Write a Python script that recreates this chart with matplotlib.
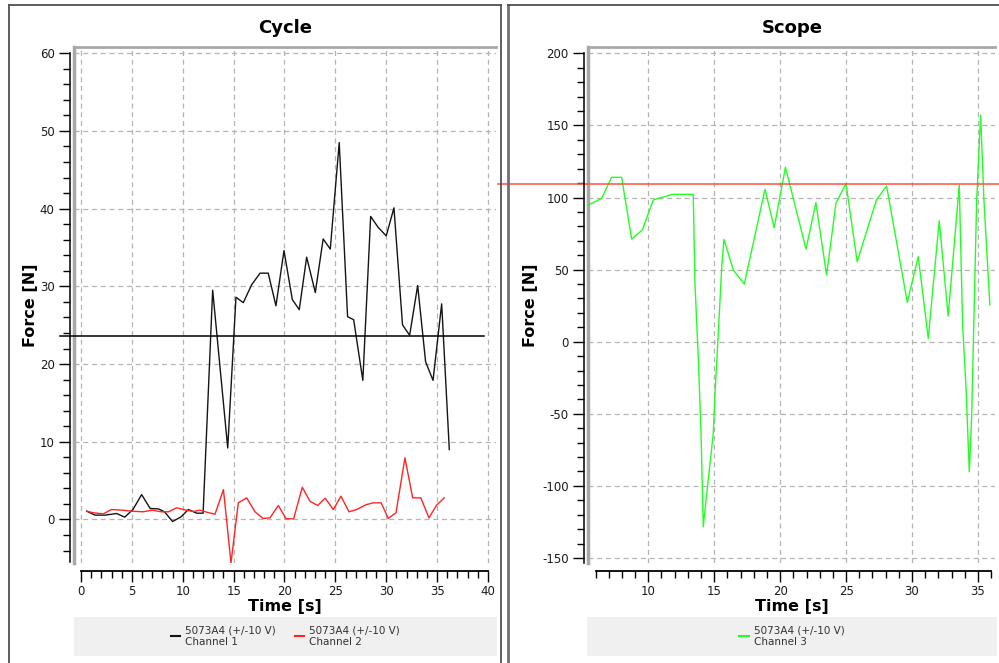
import matplotlib.pyplot as plt
from matplotlib.lines import Line2D
from matplotlib.patches import Rectangle
from matplotlib.ticker import MultipleLocator

plt.rcParams['axes.unicode_minus'] = False

# Cycle panel: channel 1 (black) and channel 2 (red)
ch1_t = [0.56, 1.38, 2.36, 3.5, 4.3, 5.1, 5.96, 6.8, 7.6, 8.2, 9.0, 9.83, 10.55,
         11.37, 12.0, 12.94, 14.42, 15.23, 15.95, 16.77, 17.6, 18.4, 19.16, 19.95,
         20.77, 21.45, 22.18, 23.03, 23.8, 24.5, 25.38, 26.2, 26.8, 27.7, 28.47,
         29.2, 30.0, 30.76, 31.6, 32.3, 33.09, 33.87, 34.6, 35.45, 36.2]
ch1_f = [1.07, 0.56, 0.56, 0.77, 0.3, 1.28, 3.2, 1.41, 1.37, 0.99, -0.26, 0.34, 1.28,
         0.81, 0.81, 29.5, 9.2, 28.6, 27.9, 30.2, 31.7, 31.7, 27.5, 34.6,
         28.3, 27.0, 33.75, 29.2, 36.1, 34.8, 48.5, 26.1, 25.7, 17.9, 39.0,
         37.6, 36.5, 40.1, 25.05, 23.7, 30.1, 20.3, 17.9, 27.75, 9.0]

ch2_t = [0.56, 1.21, 2.19, 3.0, 4.0, 4.98, 6.1, 7.0, 7.9, 8.6, 9.4, 10.2, 11.04,
         11.7, 12.35, 13.17, 14.0, 14.74, 15.46, 16.28, 17.1, 17.9, 18.57, 19.4,
         20.15, 20.9, 21.75, 22.5, 23.26, 24.0, 24.8, 25.55, 26.34, 27.1, 27.98,
         28.7, 29.5, 30.2, 30.96, 31.84, 32.6, 33.4, 34.2, 34.95, 35.7]
ch2_f = [1.07, 0.86, 0.73, 1.28, 1.2, 1.07, 0.99, 1.2, 0.99, 0.99, 1.5, 1.24, 1.03,
         1.2, 0.94, 0.68, 3.85, -5.6, 2.14, 2.78, 0.99, 0.13, 0.21, 1.8,
         0.09, 0.09, 4.15, 2.35, 1.8, 2.74, 1.28, 3.0, 0.99, 1.28, 1.88,
         2.14, 2.14, 0.13, 0.86, 7.93, 2.78, 2.78, 0.21, 1.84, 2.78]

# Scope panel: channel 3 (green)
ch3_t = [5.45, 6.47, 7.22, 7.98, 8.74, 9.55, 10.38, 11.82, 13.41, 13.54, 13.8, 14.0,
         14.17, 14.3, 14.93, 15.06, 15.31, 15.57, 15.74, 16.45, 17.28, 18.85, 19.55,
         20.4, 21.96, 22.71, 23.52, 24.23, 24.99, 25.84, 27.3, 28.07, 29.64, 30.47,
         31.23, 32.06, 32.74, 33.58, 33.84, 34.09, 34.34, 34.52, 34.9, 35.2, 35.45, 35.9]
ch3_f = [94.8, 99.4, 114, 114, 71.2, 77.5, 98.3, 102.2, 102.2, 40.5, -12.7, -63.5,
         -128.3, -116.7, -63.5, -35.8, 5.8, 52, 71, 49.7, 40, 105.7, 79.1,
         121, 64.3, 96.4, 46.3, 96, 109.8, 55.5, 98.3, 108, 27.3, 59,
         2.3, 83.9, 17.8, 108.7, 10.4, -31.2, -90.2, -52, 98.3, 157.2, 98.3, 25.5]

cycle_level = 23.6
scope_level = 109.4

legend_label = '5073A4 (+/-10 V)\nChannel {}'

W, H = 999, 663
fig = plt.figure(figsize=(W / 100, H / 100), dpi=100)


def fx(x):
    return x / W


def fy(y):
    return 1 - y / H


def frame_line(xs, ys, color='#505050', lw=1.3):
    fig.add_artist(Line2D([fx(v) for v in xs], [fy(v) for v in ys], color=color, lw=lw))


# window frames
frame_line([8.5, 8.5], [663, 4.5])
frame_line([8.5, 501], [4.5, 4.5])
frame_line([501, 501], [4.5, 663])
frame_line([508, 508], [663, 4.5], color='#707070', lw=2)
frame_line([508, 999], [4.5, 4.5])


def style_axes(ax, xlim, ylim, xbound, ybound, ymajor, yminor):
    ax.set_xlim(xlim)
    ax.set_ylim(ylim)
    ax.spines['right'].set_visible(False)
    ax.spines['top'].set_color('#a8a8a8')
    ax.spines['top'].set_linewidth(2)
    ax.spines['left'].set_position(('outward', 3))
    ax.spines['left'].set_bounds(*ybound)
    ax.spines['left'].set_linewidth(1.1)
    ax.spines['bottom'].set_position(('outward', 6))
    ax.spines['bottom'].set_bounds(*xbound)
    ax.spines['bottom'].set_linewidth(1.3)
    ax.plot([0, 0], [0, 1], transform=ax.transAxes, color='#a8a8a8', lw=2.5, clip_on=False)

    ax.xaxis.set_major_locator(MultipleLocator(5))
    ax.xaxis.set_minor_locator(MultipleLocator(1))
    ax.yaxis.set_major_locator(MultipleLocator(ymajor))
    ax.yaxis.set_minor_locator(MultipleLocator(yminor))
    ax.tick_params(which='major', length=8, width=1, labelsize=8.5, pad=3, labelcolor='#1a1a1a')
    ax.tick_params(which='minor', length=5, width=1)
    ax.tick_params(axis='x', which='major', pad=1.5)
    ax.grid(True, which='major', color='#b4b4b4', ls=(0, (4, 3)), lw=0.9)

    ax.set_xlabel('Time [s]', fontsize=11.5, fontweight='bold', va='center')
    ax.xaxis.set_label_coords(0.5, -0.085)
    ax.set_ylabel('Force [N]', fontsize=11.5, fontweight='bold', va='center')


def legend_box(x0, x1, handles, labels):
    fig.add_artist(Rectangle((fx(x0), fy(656)), fx(x1 - x0), 39 / H,
                             facecolor='#f0f0f0', edgecolor='none'))
    fig.legend(handles, labels, loc='center', bbox_to_anchor=(fx((x0 + x1) / 2), fy(636)),
               bbox_transform=fig.transFigure, ncol=len(handles), frameon=False,
               fontsize=7.5, handlelength=0.9, handletextpad=0.5, columnspacing=1.8,
               labelcolor='#333333')


# Cycle
ax1 = fig.add_axes([fx(74), fy(563), fx(422), 516 / H])
style_axes(ax1, (-0.69, 40.79), (-5.6, 60.8), (0, 40), (-5.5, 60), 10, 2)
ax1.yaxis.set_label_coords(-0.104, 0.5)
ax1.plot(ch1_t, ch1_f, color='#141414', lw=1.0)
ax1.plot(ch2_t, ch2_f, color='#ff2424', lw=1.0)
ax1.axhline(cycle_level, xmin=-0.033, xmax=0.9716, color='black', lw=1.1, clip_on=False)
fig.text(fx(285.5), fy(28), 'Cycle', ha='center', va='center', fontsize=13, fontweight='bold')
legend_box(74, 497,
           [Line2D([], [], color='#141414', lw=1.5), Line2D([], [], color='#ff2424', lw=1.5)],
           [legend_label.format(1), legend_label.format(2)])

# Scope
ax2 = fig.add_axes([fx(588), fy(563), fx(407), 516 / H])
style_axes(ax2, (5.43, 36.29), (-153.5, 204.4), (6, 36), (-153.5, 200), 50, 10)
ax2.yaxis.set_label_coords(-0.1425, 0.5)
ax2.plot(ch3_t, ch3_f, color='#22ff22', lw=1.0)
ax2.axhline(scope_level, xmin=-0.221, xmax=1.01, color='#ff5040', lw=1.1, clip_on=False)
fig.text(fx(792), fy(28), 'Scope', ha='center', va='center', fontsize=13, fontweight='bold')
legend_box(587, 997, [Line2D([], [], color='#22ff22', lw=1.5)], [legend_label.format(3)])

fig.savefig('out.png', dpi=100)
